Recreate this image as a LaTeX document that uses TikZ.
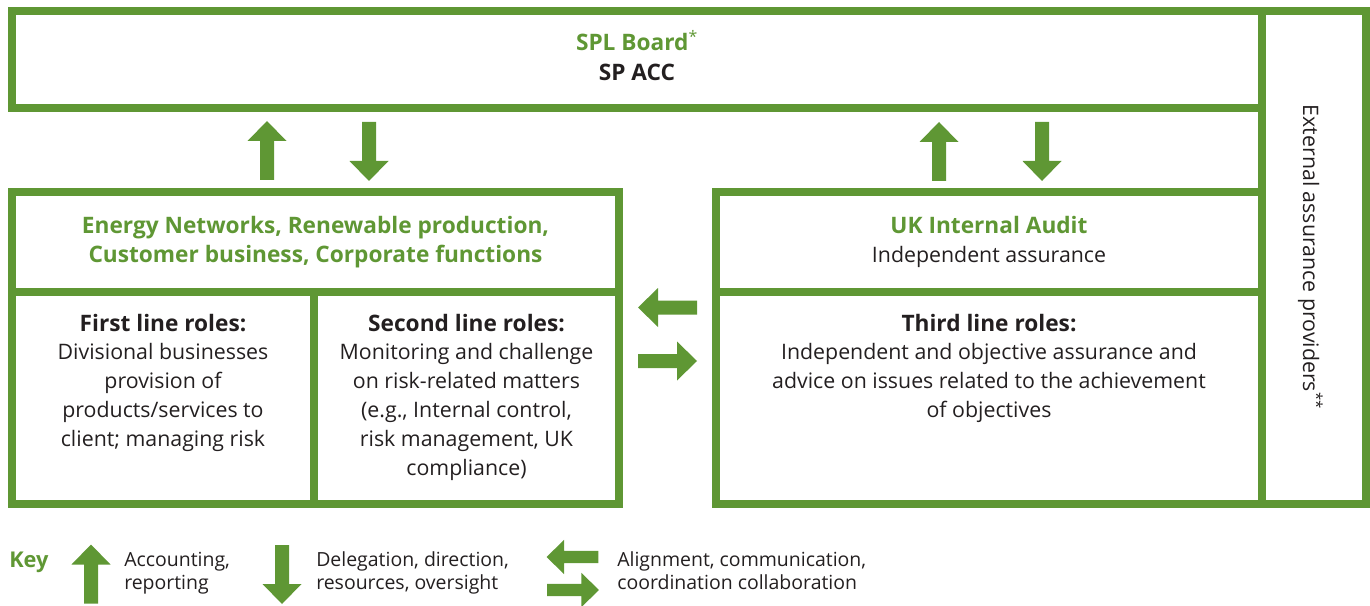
\documentclass[tikz,border=0pt]{standalone}
\usepackage{fontspec}
\setmainfont{Open Sans}
\definecolor{brand}{RGB}{95,151,52}
\definecolor{ink}{RGB}{35,31,32}
\newcommand\leadfont{\bfseries\fontsize{17}{21.6}\selectfont}
\begin{document}
\begin{tikzpicture}[x=0.75pt,y=-0.75pt,
  box/.style={draw=brand, line width=6pt, inner sep=0pt, outer sep=0pt},
  title/.style={font=\bfseries\fontsize{17}{21.75}\selectfont, text=brand, align=center, inner sep=0pt, anchor=base},
  body/.style={font=\fontsize{16}{21.6}\selectfont, text=ink, align=center, inner sep=0pt, anchor=base},
  keytext/.style={font=\fontsize{14.6}{17.25}\selectfont, text=ink, align=left, inner sep=0pt, anchor=base west},
  blockarrow/.pic={\fill[brand] (0,-29.5) -- (19.5,-9.5) -- (7,-9.5) -- (7,29.5)
                    -- (-7,29.5) -- (-7,-9.5) -- (-19.5,-9.5) -- cycle;}]
\useasboundingbox (0,0) rectangle (1370,606);

% frames
\node[box, minimum width=937.5pt, minimum height=72.75pt] (board) at (637,59.5) {};
\node[box, minimum width=78pt, minimum height=369.75pt] (external) at (1314,257.5) {};
\node[box, minimum width=455.25pt, minimum height=75pt] (business) at (315.5,242) {};
\node[box, minimum width=226.5pt, minimum height=159pt] (first) at (163,398) {};
\node[box, minimum width=228.75pt, minimum height=159pt] (second) at (466.5,398) {};
\node[box, minimum width=409.5pt, minimum height=75pt] (audit) at (989,242) {};
\node[box, minimum width=409.5pt, minimum height=159pt] (third) at (989,398) {};

% texts (a multi-line node sits on the baseline of its last line)
\node[title, font=\bfseries\fontsize{17}{22.5}\selectfont] (boardtext) at (637,81)
  {SPL Board\textsuperscript{\mdseries*}\\\textcolor{ink}{SP ACC}};
\node[title] (businesstext) at (315.5,262)
  {Energy Networks, Renewable production,\\Customer business, Corporate functions};
\node[title] (audittext) at (989,262)
  {UK Internal Audit\\\textcolor{ink}{\mdseries\fontsize{16}{21.75}\selectfont Independent assurance}};
\node[body] (firsttext) at (163,446.2)
  {{\leadfont First line roles:}\\Divisional businesses\\provision of\\products/services to\\client; managing risk};
\node[body] (secondtext) at (466.5,475)
  {{\leadfont Second line roles:}\\Monitoring and challenge\\on risk-related matters\\(e.g., Internal control,\\risk management, UK\\compliance)};
\node[body] (thirdtext) at (989,417.4)
  {{\leadfont Third line roles:}\\Independent and objective assurance and\\advice on issues related to the achievement\\of objectives};
\node[body, rotate=-90] (externaltext) at (1303,257)
  {External assurance providers\textsuperscript{**}};

% flows between the levels
\pic at (267,150.5) {blockarrow};
\pic[rotate=180] at (369,151.5) {blockarrow};
\pic at (939,151.5) {blockarrow};
\pic[rotate=180] at (1042,151.5) {blockarrow};
\pic[rotate=90] at (667.5,307.5) {blockarrow};
\pic[rotate=-90] at (667.5,361) {blockarrow};

% key
\node[title, font=\bfseries\fontsize{16.3}{18}\selectfont, anchor=base west] (key) at (9,567) {Key};
\pic at (91,574) {blockarrow};
\node[keytext] (keyup) at (124,589) {Accounting,\\reporting};
\pic[rotate=180] at (282,574.5) {blockarrow};
\node[keytext] (keydown) at (316,589) {Delegation, direction,\\resources, oversight};
\pic[rotate=90, scale=0.88] at (572.5,557) {blockarrow};
\pic[rotate=-90, scale=0.88] at (573,590) {blockarrow};
\node[keytext] (keyalign) at (617,589) {Alignment, communication,\\coordination collaboration};
\end{tikzpicture}
\end{document}
